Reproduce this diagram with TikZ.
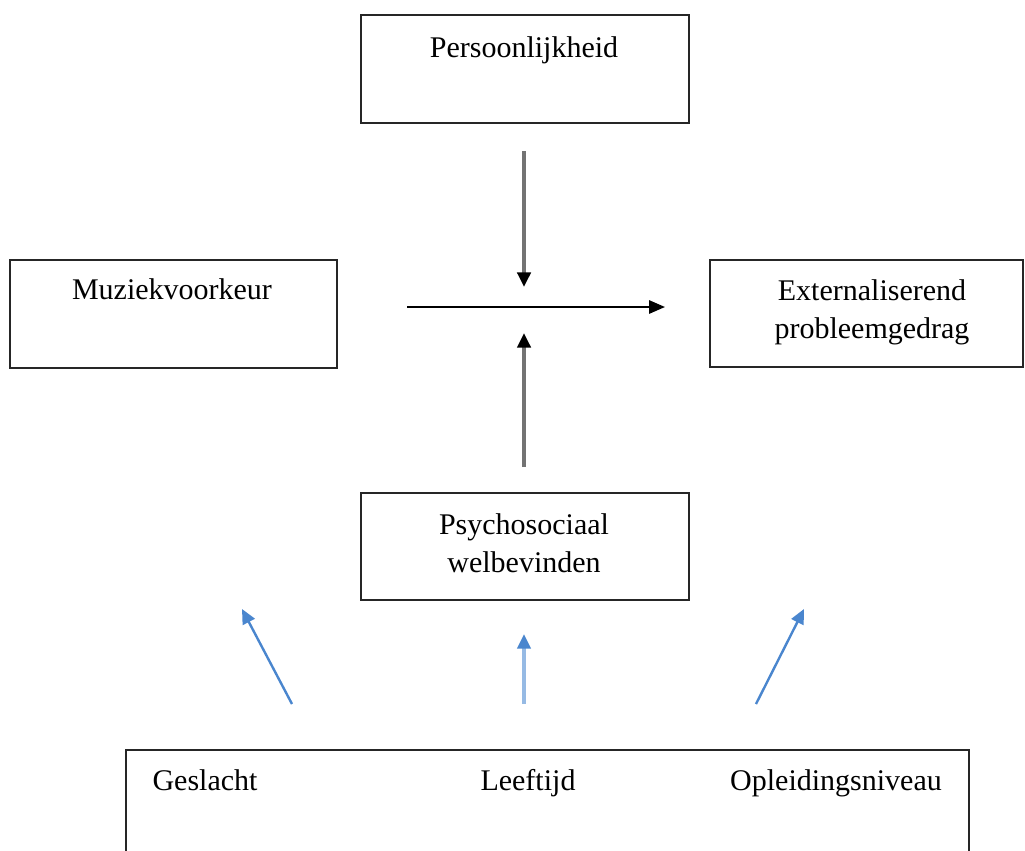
\documentclass[tikz,border=0pt]{standalone}
\usepackage{fontspec}
\setmainfont{Liberation Serif}
\usetikzlibrary{arrows.meta}
\definecolor{arrblue}{RGB}{74,134,206}
\definecolor{arrbluelight}{RGB}{150,186,228}
\tikzset{
  boxnode/.style={draw=black!85, line width=1.4pt, inner sep=0pt, anchor=north west},
  lbl/.style={inner sep=0pt, anchor=base, align=center, font=\fontsize{22.5}{28.5}\selectfont},
  grayarr/.style={draw=black!55, line width=2.6pt, -{Triangle[length=11pt,width=10pt,color=black]}},
  blkarr/.style={draw=black, line width=1.5pt, -{Triangle[length=12pt,width=10pt]}},
  bluearr/.style={draw=arrblue, line width=1.8pt, -{Triangle[length=11pt,width=10pt,color=arrblue]}},
}
\begin{document}
\begin{tikzpicture}[x=0.75pt,y=-0.75pt]
\useasboundingbox (0,0) rectangle (1025,850);
% boxes
\node[boxnode, minimum width=328*0.75pt, minimum height=108*0.75pt] (pers) at (360,14) {};
\node[boxnode, minimum width=327*0.75pt, minimum height=108*0.75pt] (muz) at (9,259) {};
\node[boxnode, minimum width=313*0.75pt, minimum height=107*0.75pt] (ext) at (709,259) {};
\node[boxnode, minimum width=328*0.75pt, minimum height=107*0.75pt] (psy) at (360,492) {};
\node[boxnode, minimum width=843*0.75pt, minimum height=120*0.75pt] (dem) at (125,749) {};
% labels
\node[lbl] (tpers) at (524,57) {Persoonlijkheid};
\node[lbl] (tmuz) at (172,299) {Muziekvoorkeur};
\node[lbl] (text) at (872,338) {Externaliserend\\probleemgedrag};
\node[lbl] (tpsy) at (524,572) {Psychosociaal\\welbevinden};
\node[lbl] (tges) at (205,790) {Geslacht};
\node[lbl] (tlee) at (528,790) {Leeftijd};
\node[lbl] (topl) at (836,790) {Opleidingsniveau};
% arrow coordinates
\coordinate (a1s) at (524,151); \coordinate (a1e) at (524,287);
\coordinate (hs) at (407,307); \coordinate (he) at (665,307);
\coordinate (a2s) at (524,467); \coordinate (a2e) at (524,333);
\coordinate (b1s) at (292,704); \coordinate (b1e) at (242,609);
\coordinate (b2s) at (524,704); \coordinate (b2e) at (524,634);
\coordinate (b3s) at (756,704); \coordinate (b3e) at (804,609);
\draw[grayarr] (a1s) -- (a1e);
\draw[blkarr] (hs) -- (he);
\draw[grayarr] (a2s) -- (a2e);
\draw[bluearr] (b1s) -- (b1e);
\draw[bluearr, draw=arrbluelight, line width=2.4pt] (b2s) -- (b2e);
\draw[bluearr] (b3s) -- (b3e);
\end{tikzpicture}
\end{document}
